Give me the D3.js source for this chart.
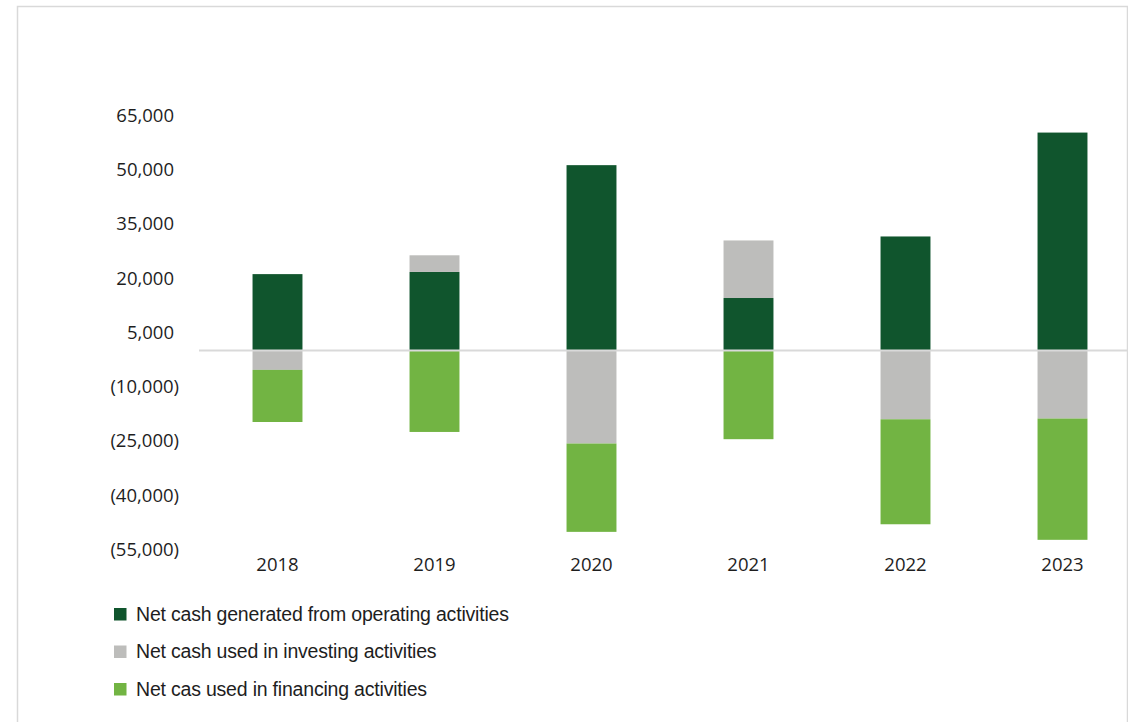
<!DOCTYPE html>
<html>
<head>
<meta charset="utf-8">
<script src="https://cdn.jsdelivr.net/npm/d3@7/dist/d3.min.js"></script>
<style>
  html, body { margin: 0; padding: 0; background: #fff; }
  svg { display: block; }
</style>
</head>
<body>
<svg id="chart" width="1128" height="722"></svg>
<script>
// Cash flow summary, thousands
const years = ["2018", "2019", "2020", "2021", "2022", "2023"];
const operating = [21100, 21700, 51200, 14500, 31500, 60200];
const investing = [-5350, 4600, -25700, 15900, -19000, -18800];
const financing = [-14400, -22500, -24400, -24500, -29000, -33500];
const yTicks = [65000, 50000, 35000, 20000, 5000, -10000, -25000, -40000, -55000];

const seriesNames = [
  "Net cash generated from operating activities",
  "Net cash used in investing activities",
  "Net cas used in financing activities"
];
const seriesColors = ["#10552d", "#bdbdbb", "#72b443"];
const seriesValues = [operating, investing, financing];

const svg = d3.select("#chart");

// outer frame
svg.append("rect")
  .attr("x", 17.5).attr("y", 6.5)
  .attr("width", 1110).attr("height", 730)
  .attr("fill", "none").attr("stroke", "#d9d9d9").attr("stroke-width", 1.5);

const x = d3.scaleBand()
  .domain(years)
  .range([199, 1141])
  .paddingInner(0.682)
  .paddingOuter(0.341);

const y = d3.scaleLinear()
  .domain([-55000, 65000])
  .range([549.6, 115.2]);

// stacked segments: positives stack up from zero, negatives stack down
const segments = [];
years.forEach((yr, i) => {
  let pos = 0, neg = 0;
  seriesValues.forEach((vals, s) => {
    const v = vals[i];
    let y0, y1;
    if (v >= 0) { y0 = pos; y1 = pos + v; pos = y1; }
    else { y0 = neg; y1 = neg + v; neg = y1; }
    segments.push({ year: yr, s, y0, y1 });
  });
});

svg.append("g")
  .selectAll("rect")
  .data(segments)
  .join("rect")
  .attr("x", d => x(d.year))
  .attr("width", x.bandwidth())
  .attr("y", d => y(Math.max(d.y0, d.y1)))
  .attr("height", d => Math.abs(y(d.y0) - y(d.y1)))
  .attr("fill", d => seriesColors[d.s]);

// zero line
svg.append("line")
  .attr("x1", 199).attr("x2", 1128)
  .attr("y1", y(0)).attr("y2", y(0))
  .attr("stroke", "#d9d9d9").attr("stroke-width", 2);

// y axis labels (accounting format)
const fmt = v => v < 0 ? "(" + d3.format(",")(-v) + ")" : d3.format(",")(v);
svg.append("g")
  .selectAll("text")
  .data(yTicks)
  .join("text")
  .attr("x", d => d < 0 ? 179 : 174)
  .attr("y", d => y(d))
  .attr("dy", "0.35em")
  .attr("text-anchor", "end")
  .attr("font-family", "'Open Sans', sans-serif")
  .attr("font-size", 18.5)
  .attr("fill", "#1e1e1e")
  .text(fmt);

// x axis labels
svg.append("g")
  .selectAll("text")
  .data(years)
  .join("text")
  .attr("x", d => x(d) + x.bandwidth() / 2)
  .attr("y", 565)
  .attr("dy", "0.35em")
  .attr("text-anchor", "middle")
  .attr("font-family", "'Open Sans', sans-serif")
  .attr("font-size", 18.5)
  .attr("fill", "#1e1e1e")
  .text(d => d);

// legend
const legend = svg.append("g")
  .selectAll("g")
  .data(seriesNames)
  .join("g")
  .attr("transform", (d, i) => `translate(114, ${614 + i * 37.5})`);

legend.append("rect")
  .attr("x", 0).attr("y", -6)
  .attr("width", 12.5).attr("height", 12.5)
  .attr("fill", (d, i) => seriesColors[i]);

legend.append("text")
  .attr("x", 22).attr("y", 0)
  .attr("dy", "0.35em")
  .attr("font-family", "'Liberation Sans', Arial, sans-serif")
  .attr("font-size", 19.5)
  .attr("letter-spacing", -0.2)
  .attr("fill", "#1e1e1e")
  .text(d => d);
</script>
</body>
</html>
